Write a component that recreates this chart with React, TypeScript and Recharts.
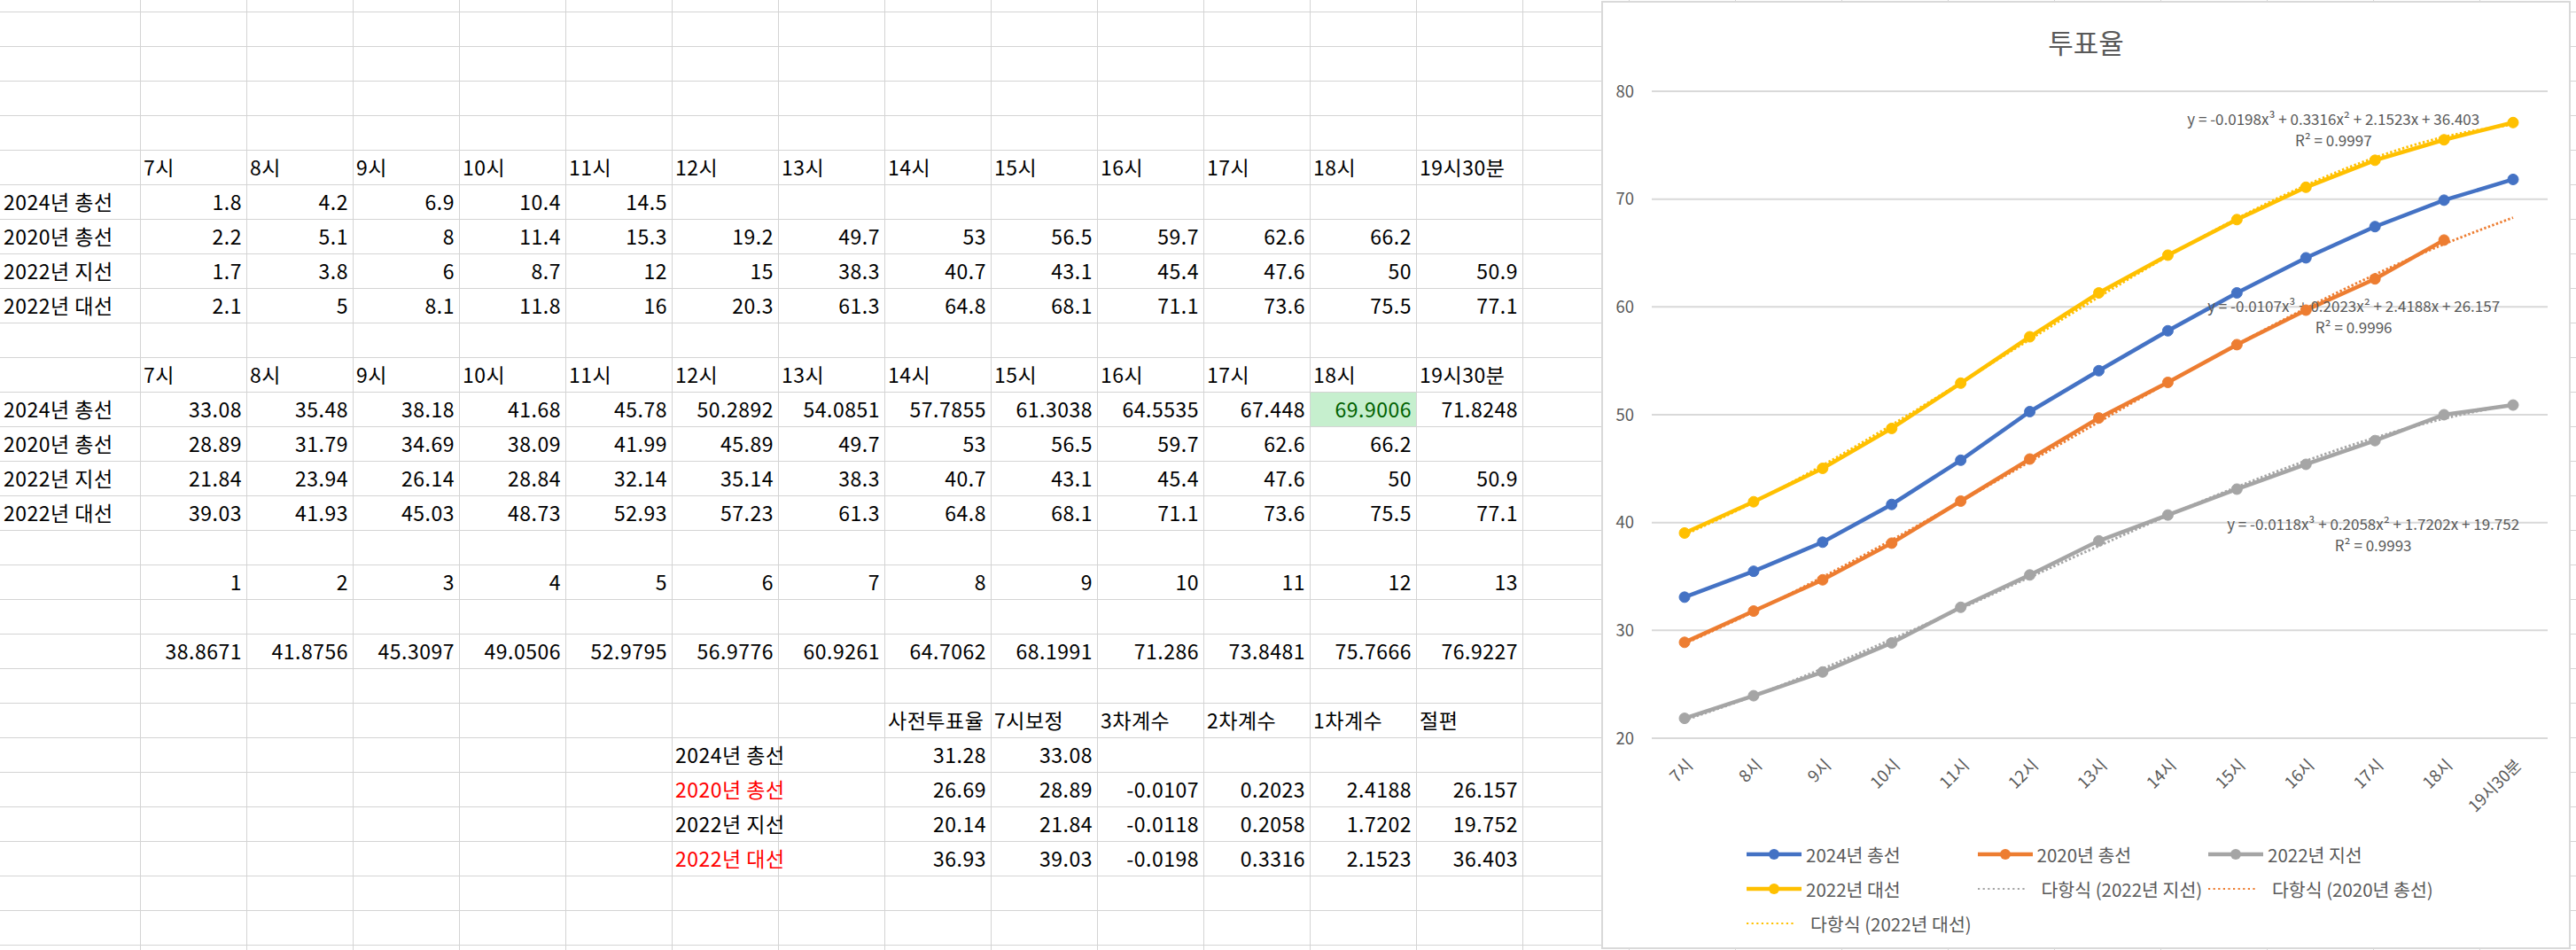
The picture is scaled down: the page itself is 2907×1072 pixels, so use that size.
import React from "react";
import { LineChart, Line, XAxis, YAxis, CartesianGrid, ReferenceDot } from "recharts";

const FONT = "'Noto Sans CJK KR', 'Noto Sans', sans-serif";

const hours = ["7시", "8시", "9시", "10시", "11시", "12시", "13시", "14시", "15시", "16시", "17시", "18시", "19시30분"];
const elections = ["2024년 총선", "2020년 총선", "2022년 지선", "2022년 대선"];

// 시간대별 누적 투표율 (본투표만)
const raw2024 = [1.8, 4.2, 6.9, 10.4, 14.5];
const raw2020 = [2.2, 5.1, 8, 11.4, 15.3, 19.2, 49.7, 53, 56.5, 59.7, 62.6, 66.2];
const rawJi = [1.7, 3.8, 6, 8.7, 12, 15, 38.3, 40.7, 43.1, 45.4, 47.6, 50, 50.9];
const rawDae = [2.1, 5, 8.1, 11.8, 16, 20.3, 61.3, 64.8, 68.1, 71.1, 73.6, 75.5, 77.1];

// 7시 보정값 -> 차트 시리즈
const turnout2024 = [33.08, 35.48, 38.18, 41.68, 45.78, 50.2892, 54.0851, 57.7855, 61.3038, 64.5535, 67.448, 69.9006, 71.8248];
const turnout2020 = [28.89, 31.79, 34.69, 38.09, 41.99, 45.89, 49.7, 53, 56.5, 59.7, 62.6, 66.2];
const turnoutJi = [21.84, 23.94, 26.14, 28.84, 32.14, 35.14, 38.3, 40.7, 43.1, 45.4, 47.6, 50, 50.9];
const turnoutDae = [39.03, 41.93, 45.03, 48.73, 52.93, 57.23, 61.3, 64.8, 68.1, 71.1, 73.6, 75.5, 77.1];

const hourIndex = [1, 2, 3, 4, 5, 6, 7, 8, 9, 10, 11, 12, 13];
const fitDae = [38.8671, 41.8756, 45.3097, 49.0506, 52.9795, 56.9776, 60.9261, 64.7062, 68.1991, 71.286, 73.8481, 75.7666, 76.9227];

// 다항식 추세선
const trend2020 = [28.77, 31.72, 34.95, 38.38, 41.97, 45.64, 49.33, 52.98, 56.51, 59.88, 63.0, 65.82, 68.28];
const trendJi = [21.67, 23.92, 26.45, 29.17, 32.02, 34.93, 37.83, 40.64, 43.3, 45.73, 47.87, 49.64, 50.97];

// 아래쪽 요약표
const summaryHeaders = ["사전투표율", "7시보정", "3차계수", "2차계수", "1차계수", "절편"];
const earlyVote = [31.28, 26.69, 20.14, 36.93];
const adjusted7 = [33.08, 28.89, 21.84, 39.03];
const coef3 = [null, -0.0107, -0.0118, -0.0198];
const coef2 = [null, 0.2023, 0.2058, 0.3316];
const coef1 = [null, 2.4188, 1.7202, 2.1523];
const intercept = [null, 26.157, 19.752, 36.403];
const rSquared = [null, 0.9996, 0.9993, 0.9997];

const BLUE = "#4472C4";
const ORANGE = "#ED7D31";
const GRAY = "#A5A5A5";
const YELLOW = "#FFC000";
const TEXT = "#595959";

const chartData = hours.map((h, i) => ({
  hour: h,
  s2024: turnout2024[i] ?? null,
  s2020: turnout2020[i] ?? null,
  sJi: turnoutJi[i] ?? null,
  sDae: turnoutDae[i] ?? null,
  t2020: trend2020[i],
  tJi: trendJi[i],
  tDae: fitDae[i],
}));

// ---- spreadsheet ----
const COL_A = 158;
const COL_W = 120;
const ROW_H = 39;
const colX = (c: number) => (c === 0 ? 0 : COL_A + (c - 1) * COL_W);
const colWidth = (c: number) => (c === 0 ? COL_A : COL_W);
const rowY = (r: number) => -26 + r * ROW_H;

type Cell = { r: number; c: number; text: string; align: "left" | "right"; color?: string; bg?: string; overflow?: boolean };

const fmt = (v: number | null | undefined) => (v == null ? "" : String(v));

function buildCells(): Cell[] {
  const cells: Cell[] = [];
  const headerRow = (r: number) =>
    hours.forEach((h, i) => cells.push({ r, c: i + 1, text: h, align: "left" }));

  headerRow(5);
  [raw2024, raw2020, rawJi, rawDae].forEach((vals, k) => {
    cells.push({ r: 6 + k, c: 0, text: elections[k], align: "left", overflow: true });
    vals.forEach((v, i) => cells.push({ r: 6 + k, c: i + 1, text: fmt(v), align: "right" }));
  });

  headerRow(11);
  [turnout2024, turnout2020, turnoutJi, turnoutDae].forEach((vals, k) => {
    cells.push({ r: 12 + k, c: 0, text: elections[k], align: "left", overflow: true });
    vals.forEach((v, i) => {
      const hi = k === 0 && i === 11;
      cells.push({
        r: 12 + k,
        c: i + 1,
        text: fmt(v),
        align: "right",
        color: hi ? "#006100" : undefined,
        bg: hi ? "#C6EFCE" : undefined,
      });
    });
  });

  hourIndex.forEach((v, i) => cells.push({ r: 17, c: i + 1, text: fmt(v), align: "right" }));
  fitDae.forEach((v, i) => cells.push({ r: 19, c: i + 1, text: fmt(v), align: "right" }));

  summaryHeaders.forEach((h, i) => cells.push({ r: 21, c: 8 + i, text: h, align: "left" }));
  elections.forEach((e, k) => {
    const r = 22 + k;
    cells.push({ r, c: 6, text: e, align: "left", overflow: true, color: k % 2 === 1 ? "#FF0000" : undefined });
    [earlyVote[k], adjusted7[k], coef3[k], coef2[k], coef1[k], intercept[k]].forEach((v, i) =>
      cells.push({ r, c: 8 + i, text: fmt(v), align: "right" })
    );
  });
  return cells;
}

const Sheet = () => {
  const vLines: number[] = [];
  for (let x = COL_A; x < 2907; x += COL_W) vLines.push(x);
  const hLines: number[] = [];
  for (let y = 13; y < 1072; y += ROW_H) hLines.push(y);
  const cells = buildCells();
  return (
    <>
      {cells
        .filter((c) => c.bg)
        .map((c, i) => (
          <div
            key={"bg" + i}
            style={{ position: "absolute", left: colX(c.c), top: rowY(c.r), width: colWidth(c.c), height: ROW_H, background: c.bg }}
          />
        ))}
      {vLines.map((x) => (
        <div key={"v" + x} style={{ position: "absolute", left: x, top: 0, width: 1, height: 1072, background: "#d4d4d4" }} />
      ))}
      {hLines.map((y) => (
        <div key={"h" + y} style={{ position: "absolute", left: 0, top: y, width: 2907, height: 1, background: "#d4d4d4" }} />
      ))}
      {cells.map((c, i) => (
        <div
          key={i}
          style={{
            position: "absolute",
            left: colX(c.c),
            top: rowY(c.r),
            width: colWidth(c.c),
            height: ROW_H,
            lineHeight: ROW_H + "px",
            boxSizing: "border-box",
            padding: c.align === "left" ? "0 0 0 4px" : "0 5px 0 0",
            textAlign: c.align,
            whiteSpace: "nowrap",
            overflow: c.overflow ? "visible" : "hidden",
            color: c.color ?? "#000",
            fontSize: 23,
            letterSpacing: 0.5,
            fontFamily: FONT,
          }}
        >
          {c.text}
        </div>
      ))}
    </>
  );
};

// ---- chart ----
const HourTick = ({ x, y, payload }: any) => (
  <g transform={`translate(${x + 6},${y + 27})`}>
    <text textAnchor="end" dy="0.35em" transform="rotate(-45)" fill={TEXT} fontSize={18.5} fontFamily={FONT}>
      {payload.value}
    </text>
  </g>
);

const eqText = (k: number) => `y = ${coef3[k]}x³ + ${coef2[k]}x² + ${coef1[k]}x + ${intercept[k]}`;

const trendLabel = (k: number, dx: number) => (p: any) => (
  <g>
    <text x={p.cx + dx} y={p.cy} dy="0.35em" textAnchor="middle" fill={TEXT} fontSize={17} fontFamily={FONT}>
      {eqText(k)}
    </text>
    <text x={p.cx + dx} y={p.cy + 24} dy="0.35em" textAnchor="middle" fill={TEXT} fontSize={17} fontFamily={FONT}>
      {`R² = ${rSquared[k]}`}
    </text>
  </g>
);

const legendItems = [
  { name: "2024년 총선", color: BLUE, dotted: false },
  { name: "2020년 총선", color: ORANGE, dotted: false },
  { name: "2022년 지선", color: GRAY, dotted: false },
  { name: "2022년 대선", color: YELLOW, dotted: false },
  { name: "다항식 (2022년 지선)", color: GRAY, dotted: true },
  { name: "다항식 (2020년 총선)", color: ORANGE, dotted: true },
  { name: "다항식 (2022년 대선)", color: YELLOW, dotted: true },
];

const ChartLegend = () => (
  <>
    {legendItems.map((it, i) => (
      <div
        key={it.name}
        style={{
          position: "absolute",
          left: 162 + (i % 3) * 260.5,
          top: 961 + Math.floor(i / 3) * 39 - 15,
          height: 30,
          display: "flex",
          alignItems: "center",
          whiteSpace: "nowrap",
        }}
      >
        <svg width={it.dotted ? 67 : 62} height={30}>
          {it.dotted ? (
            <line x1={0} y1={15} x2={56} y2={15} stroke={it.color} strokeWidth={2.2} strokeDasharray="2.2 3.4" />
          ) : (
            <>
              <line x1={0} y1={15} x2={62} y2={15} stroke={it.color} strokeWidth={4.5} />
              <circle cx={31} cy={15} r={6} fill={it.color} />
            </>
          )}
        </svg>
        <span style={{ marginLeft: 5, fontSize: 20.5, color: TEXT, fontFamily: FONT }}>{it.name}</span>
      </div>
    ))}
  </>
);

const TurnoutChart = () => (
  <div
    style={{
      position: "absolute",
      left: 1807,
      top: 1,
      width: 1094,
      height: 1070,
      boxSizing: "border-box",
      border: "2px solid #d9d9d9",
      background: "#fff",
    }}
  >
    <div
      style={{
        position: "absolute",
        left: 0,
        top: 22,
        width: 1090,
        textAlign: "center",
        fontSize: 31,
        lineHeight: "44px",
        color: TEXT,
        fontFamily: FONT,
      }}
    >
      투표율
    </div>
    <LineChart width={1090} height={1066} data={chartData} margin={{ top: 100, right: 24, left: 0, bottom: 0 }}>
      <CartesianGrid vertical={false} stroke="#d9d9d9" strokeWidth={2} />
      <XAxis
        dataKey="hour"
        interval={0}
        height={236}
        padding={{ left: 37, right: 39 }}
        tickLine={false}
        tickSize={0}
        tickMargin={0}
        axisLine={{ stroke: "#d9d9d9", strokeWidth: 2 }}
        tick={<HourTick />}
      />
      <YAxis
        domain={[20, 80]}
        ticks={[20, 30, 40, 50, 60, 70, 80]}
        width={55}
        axisLine={false}
        tickLine={false}
        tickSize={0}
        tickMargin={20}
        tick={{ fill: TEXT, fontSize: 18.5, fontFamily: FONT }}
      />
      <ReferenceDot x="16시" y={77.4} r={0} ifOverflow="visible" shape={trendLabel(3, 31)} />
      <ReferenceDot x="17시" y={60} r={0} ifOverflow="visible" shape={trendLabel(1, -24)} />
      <ReferenceDot x="17시" y={39.8} r={0} ifOverflow="visible" shape={trendLabel(2, -2)} />
      <Line type="linear" dataKey="s2024" stroke={BLUE} strokeWidth={4.5} dot={{ r: 6, fill: BLUE, stroke: BLUE, strokeWidth: 1 }} activeDot={false} isAnimationActive={false} />
      <Line type="linear" dataKey="s2020" stroke={ORANGE} strokeWidth={4.5} dot={{ r: 6, fill: ORANGE, stroke: ORANGE, strokeWidth: 1 }} activeDot={false} isAnimationActive={false} />
      <Line type="linear" dataKey="sJi" stroke={GRAY} strokeWidth={4.5} dot={{ r: 6, fill: GRAY, stroke: GRAY, strokeWidth: 1 }} activeDot={false} isAnimationActive={false} />
      <Line type="linear" dataKey="sDae" stroke={YELLOW} strokeWidth={4.5} dot={{ r: 6, fill: YELLOW, stroke: YELLOW, strokeWidth: 1 }} activeDot={false} isAnimationActive={false} />
      {/* 추세선 (점선) */}
      <Line type="monotone" dataKey="tJi" stroke={GRAY} strokeWidth={2.8} strokeDasharray="2.4 2.4" dot={false} activeDot={false} isAnimationActive={false} />
      <Line type="monotone" dataKey="t2020" stroke={ORANGE} strokeWidth={2.8} strokeDasharray="2.4 2.4" dot={false} activeDot={false} isAnimationActive={false} />
      <Line type="monotone" dataKey="tDae" stroke={YELLOW} strokeWidth={2.8} strokeDasharray="2.4 2.4" dot={false} activeDot={false} isAnimationActive={false} />
    </LineChart>
    <ChartLegend />
  </div>
);

export default function App() {
  return (
    <div
      style={{
        position: "absolute",
        left: 0,
        top: 0,
        width: 2907,
        height: 1072,
        overflow: "hidden",
        background: "#fff",
      }}
    >
      <Sheet />
      <TurnoutChart />
    </div>
  );
}
